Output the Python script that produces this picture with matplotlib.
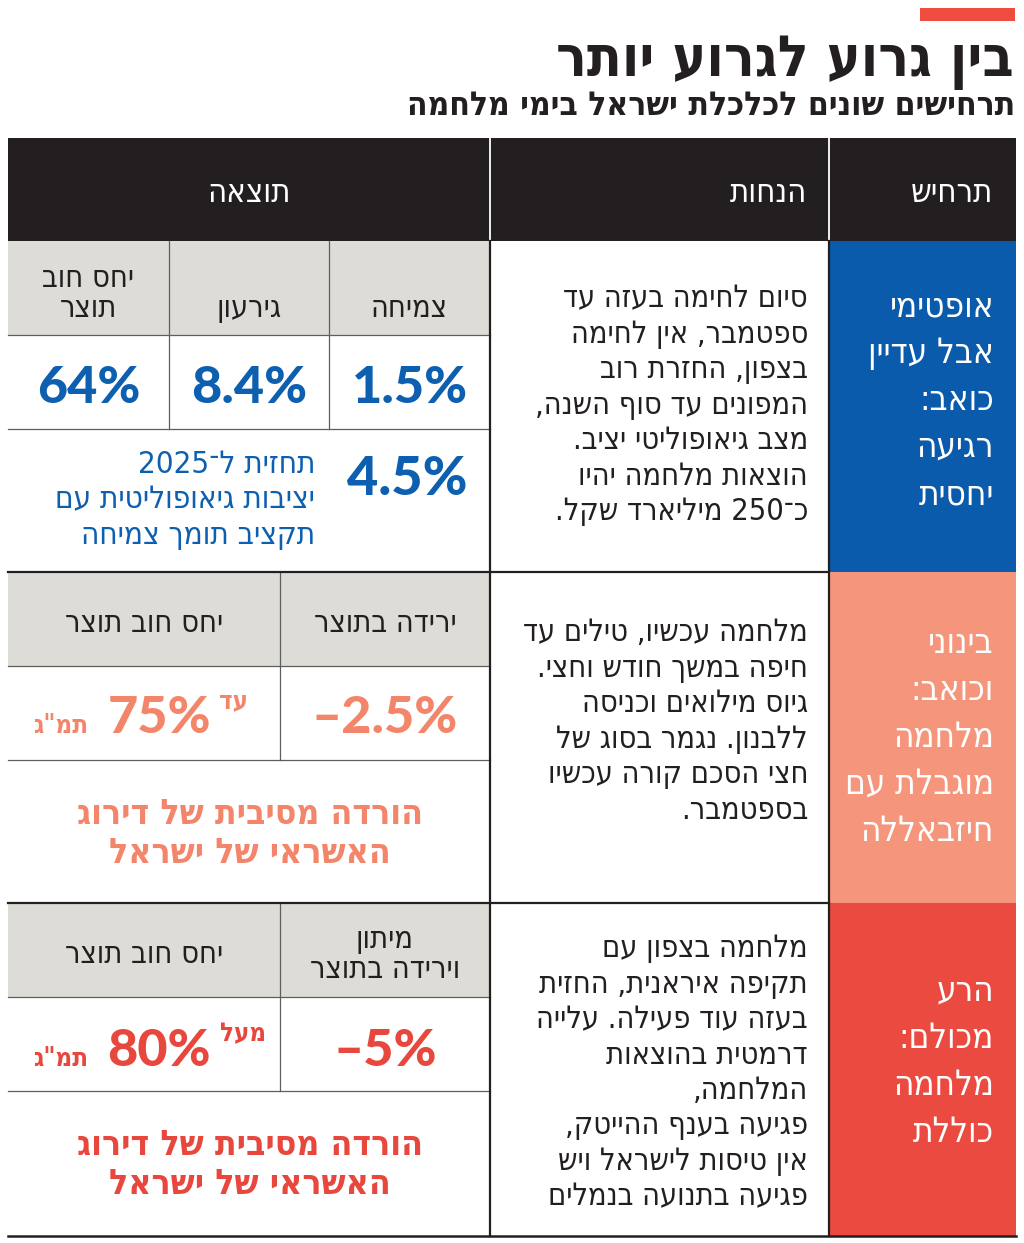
import re
import matplotlib.pyplot as plt
from matplotlib.patches import Rectangle

# --- data ---
title = "בין גרוע לגרוע יותר"
subtitle = "תרחישים שונים לכלכלת ישראל בימי מלחמה"
col_heads = ["תרחיש", "הנחות", "תוצאה"]

scenarios = [
    ["אופטימי", "אבל עדיין", "כואב:", "רגיעה", "יחסית"],
    ["בינוני", "וכואב:", "מלחמה", "מוגבלת עם", "חיזבאללה"],
    ["הרע", "מכולם:", "מלחמה", "כוללת"],
]
assumptions = [
    ["סיום לחימה בעזה עד", "ספטמבר, אין לחימה", "בצפון, החזרת רוב",
     "המפונים עד סוף השנה,", "מצב גיאופוליטי יציב.", "הוצאות מלחמה יהיו",
     "כ־250 מיליארד שקל."],
    ["מלחמה עכשיו, טילים עד", "חיפה במשך חודש וחצי.", "גיוס מילואים וכניסה",
     "ללבנון. נגמר בסוג של", "חצי הסכם קורה עכשיו", "בספטמבר."],
    ["מלחמה בצפון עם", "תקיפה איראנית, החזית", "בעזה עוד פעילה. עלייה",
     "דרמטית בהוצאות", "המלחמה,", "פגיעה בענף ההייטק,",
     "אין טיסות לישראל ויש", "פגיעה בתנועה בנמלים"],
]
result_heads = [
    [["צמיחה"], ["גירעון"], ["יחס חוב", "תוצר"]],
    [["ירידה בתוצר"], ["יחס חוב תוצר"]],
    [["מיתון", "וירידה בתוצר"], ["יחס חוב תוצר"]],
]
result_vals = [["1.5%", "8.4%", "64%"], ["–2.5%", "75%"], ["–5%", "80%"]]
qualifiers = ["", "עד", "מעל"]
unit = 'תמ"ג'
forecast_val = "4.5%"
forecast_text = ["תחזית ל־2025", "יציבות גיאופוליטית עם", "תקציב תומך צמיחה"]
downgrade = ["הורדה מסיבית של דירוג", "האשראי של ישראל"]

cell_colors = ["#0a5bab", "#f5957c", "#ea4a3f"]
text_colors = ["#0d5fb0", "#f3866a", "#e8473d"]
dark = "#231f20"
gray = "#dddcd7"

HEB = ["DejaVu Sans Condensed", "DejaVu Sans"]
NUM = ["Lato", "DejaVu Sans"]
plt.rcParams["font.family"] = HEB


def rtl(s):
    # matplotlib has no bidi: flip the line, keep digit runs LTR
    return re.sub(r"\d+", lambda m: m.group()[::-1], s[::-1])


# --- layout (pixels) ---
L, XR, XA, R = 8, 490, 829, 1016
head_top, head_bot = 138, 241
row_top = [241, 572, 903]
row_bot = [572, 903, 1236]
sub_h = 94
res_cols = [[8, 169, 329, 490], [8, 280, 490], [8, 280, 490]]
body_base = [307, 641, 957]
scen_base = [316, 653, 1001]
step_body, step_scen = 35.5, 47

fig = plt.figure(figsize=(10.24, 12.43), dpi=100)
ax = fig.add_axes([0, 0, 1, 1])
ax.set_xlim(0, 1024)
ax.set_ylim(1243, 0)
ax.axis("off")

ax.add_patch(Rectangle((920, 8), 95, 13, color="#ef4b3f", lw=0))
ax.text(1014, 76, rtl(title), ha="right", va="baseline", fontsize=41,
        fontweight="bold", color=dark, fontstretch="condensed")
ax.text(1015, 115, rtl(subtitle), ha="right", va="baseline", fontsize=24,
        fontweight="bold", color=dark, fontstretch="condensed")

# header
ax.add_patch(Rectangle((L, head_top), R - L, head_bot - head_top, color=dark, lw=0))
for x in (XR, XA):
    ax.plot([x, x], [head_top, head_bot], color="white", lw=1.3)
hkw = dict(va="baseline", fontsize=23.5, color="white", fontstretch="condensed",
           fontweight="light")
ax.text(993, 202, rtl(col_heads[0]), ha="right", **hkw)
ax.text(807, 202, rtl(col_heads[1]), ha="right", **hkw)
ax.text((L + XR) / 2, 202, rtl(col_heads[2]), ha="center", **hkw)

for i in range(3):
    top, bot = row_top[i], row_bot[i]
    ax.add_patch(Rectangle((XA, top), R - XA, bot - top, color=cell_colors[i], lw=0))
    ax.add_patch(Rectangle((L, top), XR - L, sub_h, color=gray, lw=0))
    cols = res_cols[i]
    for y in (top + sub_h, top + 2 * sub_h):
        ax.plot([L, XR], [y, y], color="#5e5e5e", lw=0.9)
    for x in cols[1:-1]:
        ax.plot([x, x], [top, top + 2 * sub_h], color="#5e5e5e", lw=0.9)
    if i > 0:
        ax.plot([L, XA], [top, top], color=dark, lw=1.6)

    # scenario
    for k, s in enumerate(scenarios[i]):
        ax.text(994, scen_base[i] + k * step_scen, rtl(s), ha="right", va="baseline",
                fontsize=25, color="white", fontstretch="condensed",
                fontweight="light")
    # assumptions
    for k, s in enumerate(assumptions[i]):
        ax.text(808, body_base[i] + k * step_body, rtl(s), ha="right", va="baseline",
                fontsize=22, color=dark, fontstretch="condensed")

    # result sub-headers and values (cells run right to left)
    ncol = len(cols) - 1
    for j in range(ncol):
        x0, x1 = cols[ncol - j - 1], cols[ncol - j]
        cx = (x0 + x1) / 2
        lines = result_heads[i][j]
        n = len(lines)
        for k, s in enumerate(lines):
            if i == 0:
                y = top + 76 - 30 * (n - 1 - k)
            else:
                y = top + 60 + 30 * (k - (n - 1) / 2)
            ax.text(cx, y, rtl(s), ha="center", va="baseline", fontsize=22,
                    color=dark, fontstretch="condensed")
        vy = top + sub_h + 68 if i == 0 else top + sub_h + 67 + (i - 1) * 2
        vx = cx if (i == 0 or j == 0) else 159
        ax.text(vx, vy, result_vals[i][j], ha="center", va="baseline",
                fontsize=37.5, fontweight="black", family=NUM, color=text_colors[i])

    if i == 0:
        ax.text(407, 495, forecast_val, ha="center", va="baseline", fontsize=39,
                fontweight="black", family=NUM, color=text_colors[i])
        for k, s in enumerate(forecast_text):
            ax.text(315, 473 + k * step_body, rtl(s), ha="right", va="baseline",
                    fontsize=22.5, color=text_colors[i], fontstretch="condensed")
    else:
        vy = top + sub_h + 67 + (i - 1) * 2
        ax.text(234 + (i - 1) * 9, vy - 25, rtl(qualifiers[i]), ha="center",
                va="baseline", fontsize=18.5, fontweight="bold", color=text_colors[i],
                fontstretch="condensed")
        ax.text(61, vy, rtl(unit), ha="center", va="baseline", fontsize=18.5,
                fontweight="bold", color=text_colors[i], fontstretch="condensed")
        for k, s in enumerate(downgrade):
            ax.text(250, top + 2 * sub_h + 64 + k * 39, rtl(s), ha="center",
                    va="baseline", fontsize=25.5, fontweight="bold",
                    color=text_colors[i], fontstretch="condensed")

for x in (XR, XA):
    ax.plot([x, x], [head_bot, 1236], color=dark, lw=1.6)
ax.plot([L, R], [1236, 1236], color=dark, lw=1.8)

fig.savefig("out.png", dpi=100)
